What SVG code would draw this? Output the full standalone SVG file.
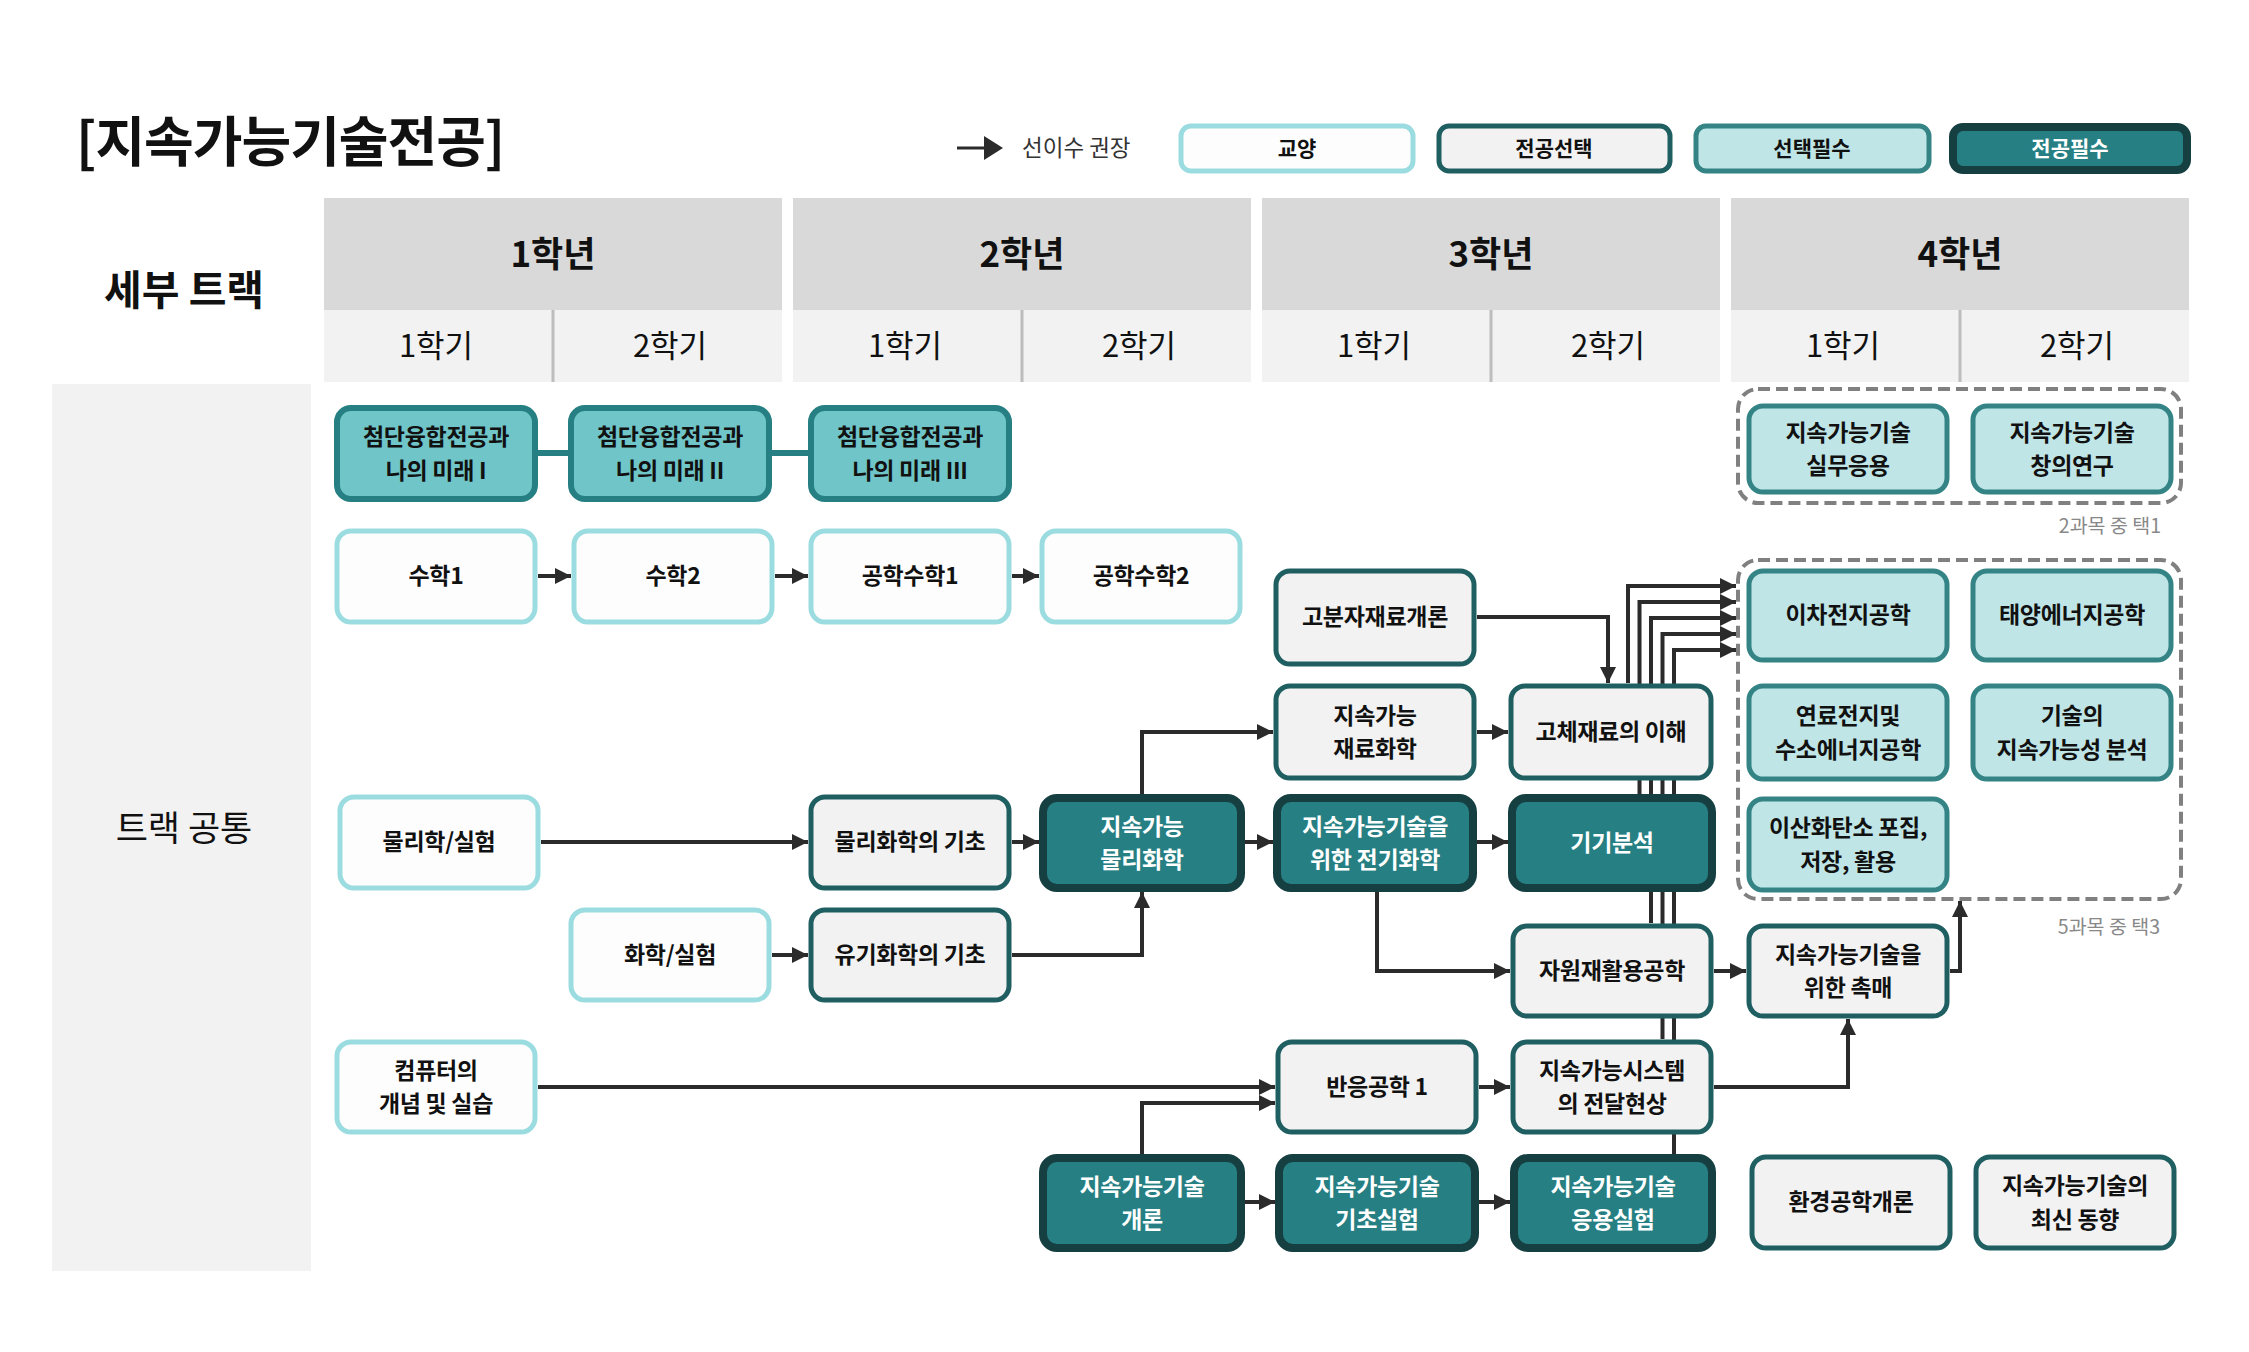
<svg xmlns="http://www.w3.org/2000/svg" width="2249" height="1352" viewBox="0 0 2249 1352">
<defs>
<style>
text{font-family:"Noto Sans CJK KR","Noto Sans",sans-serif;}
.t{font-size:23px;font-weight:600;text-anchor:middle;fill:#111;letter-spacing:-0.3px;}
.tw{font-size:23px;font-weight:600;text-anchor:middle;fill:#fff;letter-spacing:-0.3px;}
.gy{fill:#fdfdfd;stroke:#9bdce0;stroke-width:5;}
.js{fill:#f2f2f2;stroke:#1f5f62;stroke-width:5;}
.sp{fill:#bfe5e6;stroke:#348486;stroke-width:5;}
.jp{fill:#267f83;stroke:#163f41;stroke-width:8;}
.cd{fill:#6fc5c8;stroke:#267f82;stroke-width:6;}
.yr{fill:#d9d9d9;}
.sm{fill:#f2f2f2;}
.yt{font-size:35px;font-weight:700;text-anchor:middle;fill:#111;}
.st{font-size:31px;font-weight:400;text-anchor:middle;fill:#111;}
.cn{fill:none;stroke:#2b2b2b;stroke-width:4;marker-end:url(#ah);}
.tl{fill:none;stroke:#267f82;stroke-width:6;}
.grp{fill:none;stroke:#808080;stroke-width:4;stroke-dasharray:12 6;}
.gl{font-size:19.5px;fill:#888;text-anchor:end;}
.lg{font-size:21px;font-weight:700;text-anchor:middle;fill:#111;}
</style>
<marker id="ah" viewBox="0 0 16 16" refX="16" refY="8" markerWidth="16" markerHeight="16" markerUnits="userSpaceOnUse" orient="auto">
<path d="M0,0 L16,8 L0,16 z" fill="#2b2b2b"/>
</marker>
</defs>
<rect width="2249" height="1352" fill="#ffffff"/>

<g id="title">
<text x="76" y="162" style="font-size:54px;font-weight:700;fill:#111;letter-spacing:-1px">[지속가능기술전공]</text>
</g>

<g id="legend">
<line x1="957" y1="148" x2="988" y2="148" stroke="#2b2b2b" stroke-width="3"/>
<polygon points="984,136 1003,148 984,160" fill="#2b2b2b"/>
<text x="1022" y="156" style="font-size:22.5px;fill:#333">선이수 권장</text>
<rect class="gy" x="1181" y="126" width="232" height="45" rx="10"/>
<text class="lg" x="1297" y="156">교양</text>
<rect class="js" x="1439" y="126" width="231" height="45" rx="10"/>
<text class="lg" x="1554" y="156">전공선택</text>
<rect class="sp" x="1696" y="126" width="233" height="45" rx="10"/>
<text class="lg" x="1812" y="156">선택필수</text>
<rect class="jp" x="1953" y="127" width="234" height="43" rx="10"/>
<text class="lg" x="2070" y="156" style="fill:#fff">전공필수</text>
</g>

<g id="header">
<text x="184" y="305" style="font-size:41px;font-weight:700;text-anchor:middle;fill:#111">세부 트랙</text>
<rect class="yr" x="324" y="198" width="458" height="112"/>
<rect class="yr" x="793" y="198" width="458" height="112"/>
<rect class="yr" x="1262" y="198" width="458" height="112"/>
<rect class="yr" x="1731" y="198" width="458" height="112"/>
<rect class="sm" x="324" y="310" width="458" height="72"/>
<rect class="sm" x="793" y="310" width="458" height="72"/>
<rect class="sm" x="1262" y="310" width="458" height="72"/>
<rect class="sm" x="1731" y="310" width="458" height="72"/>
<g stroke="#bdbdbd" stroke-width="3">
<line x1="553" y1="310" x2="553" y2="382"/>
<line x1="1022" y1="310" x2="1022" y2="382"/>
<line x1="1491" y1="310" x2="1491" y2="382"/>
<line x1="1960" y1="310" x2="1960" y2="382"/>
</g>
<text class="yt" x="553" y="267">1학년</text>
<text class="yt" x="1022" y="267">2학년</text>
<text class="yt" x="1491" y="267">3학년</text>
<text class="yt" x="1960" y="267">4학년</text>
<text class="st" x="436" y="357">1학기</text>
<text class="st" x="670" y="357">2학기</text>
<text class="st" x="905" y="357">1학기</text>
<text class="st" x="1139" y="357">2학기</text>
<text class="st" x="1374" y="357">1학기</text>
<text class="st" x="1608" y="357">2학기</text>
<text class="st" x="1843" y="357">1학기</text>
<text class="st" x="2077" y="357">2학기</text>
</g>

<g id="track">
<rect x="52" y="384" width="259" height="887" fill="#f2f2f2"/>
<text x="184" y="841" style="font-size:35px;font-weight:400;text-anchor:middle;fill:#111">트랙 공통</text>
</g>

<g id="groups">
<rect class="grp" x="1738" y="389" width="443" height="114" rx="20"/>
<text class="gl" x="2161" y="533">2과목 중 택1</text>
<rect class="grp" x="1738" y="560" width="443" height="339" rx="20"/>
<text class="gl" x="2160" y="934">5과목 중 택3</text>
</g>

<g id="connectors">
<line class="tl" x1="538" y1="453" x2="568" y2="453"/>
<line class="tl" x1="772" y1="453" x2="808" y2="453"/>
<path class="cn" d="M538,576 H571"/>
<path class="cn" d="M775,576 H808"/>
<path class="cn" d="M1012,576 H1039"/>
<path class="cn" d="M541,842 H808"/>
<path class="cn" d="M1012,842 H1039"/>
<path class="cn" d="M772,955 H808"/>
<path class="cn" d="M1012,955 H1142 V892"/>
<path class="cn" d="M1142,794 V732 H1273"/>
<path class="cn" d="M1245,842 H1273"/>
<path class="cn" d="M1477,842 H1508"/>
<path class="cn" d="M1477,732 H1508"/>
<path class="cn" d="M1477,617 H1608 V683"/>
<path class="cn" d="M1628,683 V586 H1736"/>
<path class="cn" d="M1639.5,794 V602 H1736"/>
<path class="cn" d="M1651,923 V618 H1736"/>
<path class="cn" d="M1662.5,1039 V634 H1736"/>
<path class="cn" d="M1674,1154 V650 H1736"/>
<path class="cn" d="M1377,891 V971 H1510"/>
<path class="cn" d="M1714,971 H1746"/>
<path class="cn" d="M1950,971 H1960 V901"/>
<path class="cn" d="M1714,1087 H1848 V1019"/>
<path class="cn" d="M538,1087 H1275"/>
<path class="cn" d="M1142,1154 V1103 H1275"/>
<path class="cn" d="M1479,1087 H1510"/>
<path class="cn" d="M1245,1202 H1275"/>
<path class="cn" d="M1479,1202 H1510"/>
</g>

<g id="n-future1"><rect class="cd" x="337" y="408" width="198" height="91" rx="14"/><text class="t" x="436" y="445"><tspan x="436">첨단융합전공과</tspan><tspan x="436" dy="33.5">나의 미래 I</tspan></text></g>
<g id="n-future2"><rect class="cd" x="571" y="408" width="198" height="91" rx="14"/><text class="t" x="670" y="445"><tspan x="670">첨단융합전공과</tspan><tspan x="670" dy="33.5">나의 미래 II</tspan></text></g>
<g id="n-future3"><rect class="cd" x="811" y="408" width="198" height="91" rx="14"/><text class="t" x="910" y="445"><tspan x="910">첨단융합전공과</tspan><tspan x="910" dy="33.5">나의 미래 III</tspan></text></g>

<g id="n-math1"><rect class="gy" x="337" y="531" width="198" height="91" rx="14"/><text class="t" x="436" y="584">수학1</text></g>
<g id="n-math2"><rect class="gy" x="574" y="531" width="198" height="91" rx="14"/><text class="t" x="673" y="584">수학2</text></g>
<g id="n-emath1"><rect class="gy" x="811" y="531" width="198" height="91" rx="14"/><text class="t" x="910" y="584">공학수학1</text></g>
<g id="n-emath2"><rect class="gy" x="1042" y="531" width="198" height="91" rx="14"/><text class="t" x="1141" y="584">공학수학2</text></g>

<g id="n-polymer"><rect class="js" x="1276" y="571" width="198" height="93" rx="14"/><text class="t" x="1375" y="625">고분자재료개론</text></g>
<g id="n-matchem"><rect class="js" x="1276" y="686" width="198" height="92" rx="14"/><text class="t" x="1375" y="723.5"><tspan x="1375">지속가능</tspan><tspan x="1375" dy="33.5">재료화학</tspan></text></g>
<g id="n-solid"><rect class="js" x="1511" y="686" width="200" height="92" rx="14"/><text class="t" x="1611" y="740">고체재료의 이해</text></g>

<g id="n-physlab"><rect class="gy" x="340" y="797" width="198" height="91" rx="14"/><text class="t" x="439" y="850">물리학/실험</text></g>
<g id="n-physbase"><rect class="js" x="811" y="797" width="198" height="91" rx="14"/><text class="t" x="910" y="850">물리화학의 기초</text></g>
<g id="n-susphys"><rect class="jp" x="1043" y="798" width="198" height="90" rx="14"/><text class="tw" x="1142" y="834.5"><tspan x="1142">지속가능</tspan><tspan x="1142" dy="33.5">물리화학</tspan></text></g>
<g id="n-electro"><rect class="jp" x="1277" y="798" width="196" height="90" rx="14"/><text class="tw" x="1375" y="834.5"><tspan x="1375">지속가능기술을</tspan><tspan x="1375" dy="33.5">위한 전기화학</tspan></text></g>
<g id="n-instr"><rect class="jp" x="1512" y="798" width="200" height="90" rx="14"/><text class="tw" x="1612" y="851">기기분석</text></g>

<g id="n-chemlab"><rect class="gy" x="571" y="910" width="198" height="90" rx="14"/><text class="t" x="670" y="963">화학/실험</text></g>
<g id="n-organic"><rect class="js" x="811" y="910" width="198" height="90" rx="14"/><text class="t" x="910" y="963">유기화학의 기초</text></g>
<g id="n-recycle"><rect class="js" x="1513" y="926" width="198" height="90" rx="14"/><text class="t" x="1612" y="979">자원재활용공학</text></g>
<g id="n-catal"><rect class="js" x="1749" y="926" width="198" height="90" rx="14"/><text class="t" x="1848" y="962.5"><tspan x="1848">지속가능기술을</tspan><tspan x="1848" dy="33.5">위한 촉매</tspan></text></g>

<g id="n-computer"><rect class="gy" x="337" y="1042" width="198" height="90" rx="14"/><text class="t" x="436" y="1078.5"><tspan x="436">컴퓨터의</tspan><tspan x="436" dy="33.5">개념 및 실습</tspan></text></g>
<g id="n-reaction"><rect class="js" x="1278" y="1042" width="198" height="90" rx="14"/><text class="t" x="1377" y="1095">반응공학 1</text></g>
<g id="n-transport"><rect class="js" x="1513" y="1042" width="198" height="90" rx="14"/><text class="t" x="1612" y="1078.5"><tspan x="1612">지속가능시스템</tspan><tspan x="1612" dy="33.5">의 전달현상</tspan></text></g>

<g id="n-intro"><rect class="jp" x="1043" y="1158" width="198" height="90" rx="14"/><text class="tw" x="1142" y="1194.5"><tspan x="1142">지속가능기술</tspan><tspan x="1142" dy="33.5">개론</tspan></text></g>
<g id="n-basiclab"><rect class="jp" x="1279" y="1158" width="196" height="90" rx="14"/><text class="tw" x="1377" y="1194.5"><tspan x="1377">지속가능기술</tspan><tspan x="1377" dy="33.5">기초실험</tspan></text></g>
<g id="n-applab"><rect class="jp" x="1514" y="1158" width="198" height="90" rx="14"/><text class="tw" x="1613" y="1194.5"><tspan x="1613">지속가능기술</tspan><tspan x="1613" dy="33.5">응용실험</tspan></text></g>
<g id="n-env"><rect class="js" x="1752" y="1157" width="198" height="91" rx="14"/><text class="t" x="1851" y="1210">환경공학개론</text></g>
<g id="n-trend"><rect class="js" x="1976" y="1157" width="198" height="91" rx="14"/><text class="t" x="2075" y="1194"><tspan x="2075">지속가능기술의</tspan><tspan x="2075" dy="33.5">최신 동향</tspan></text></g>

<g id="n-practice"><rect class="sp" x="1749" y="406" width="198" height="86" rx="14"/><text class="t" x="1848" y="440.5"><tspan x="1848">지속가능기술</tspan><tspan x="1848" dy="33.5">실무응용</tspan></text></g>
<g id="n-creative"><rect class="sp" x="1973" y="406" width="198" height="86" rx="14"/><text class="t" x="2072" y="440.5"><tspan x="2072">지속가능기술</tspan><tspan x="2072" dy="33.5">창의연구</tspan></text></g>
<g id="n-battery"><rect class="sp" x="1749" y="571" width="198" height="89" rx="14"/><text class="t" x="1848" y="623">이차전지공학</text></g>
<g id="n-solar"><rect class="sp" x="1973" y="571" width="198" height="89" rx="14"/><text class="t" x="2072" y="623">태양에너지공학</text></g>
<g id="n-fuelcell"><rect class="sp" x="1749" y="686" width="198" height="93" rx="14"/><text class="t" x="1848" y="724"><tspan x="1848">연료전지및</tspan><tspan x="1848" dy="33.5">수소에너지공학</tspan></text></g>
<g id="n-sustain"><rect class="sp" x="1973" y="686" width="198" height="93" rx="14"/><text class="t" x="2072" y="724"><tspan x="2072">기술의</tspan><tspan x="2072" dy="33.5">지속가능성 분석</tspan></text></g>
<g id="n-ccus"><rect class="sp" x="1749" y="799" width="198" height="91" rx="14"/><text class="t" x="1848" y="836"><tspan x="1848">이산화탄소 포집,</tspan><tspan x="1848" dy="33.5">저장, 활용</tspan></text></g>
</svg>
